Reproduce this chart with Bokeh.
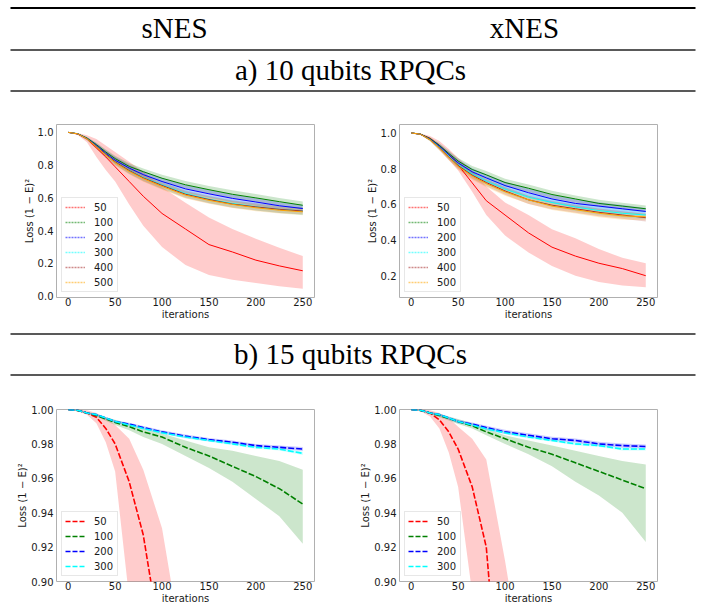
from bokeh.plotting import figure
from bokeh.layouts import column, row
from bokeh.models import Range1d, FixedTicker, PrintfTickFormatter, Legend, LegendItem
from bokeh.core.properties import value
from bokeh.embed import file_html
from bokeh.resources import INLINE

# ---------------- data ----------------
ITER = [0, 10, 20, 30, 40, 50, 65, 80, 100, 125, 150, 175, 200, 225, 250]
X_TICKS = [0, 50, 100, 150, 200, 250]
Y_TICKS_S10 = [0.0, 0.2, 0.4, 0.6, 0.8, 1.0]
Y_TICKS_X10 = [0.2, 0.4, 0.6, 0.8, 1.0]
Y_TICKS_15 = [0.90, 0.92, 0.94, 0.96, 0.98, 1.00]
LABELS_10 = ["50", "100", "200", "300", "400", "500"]
LABELS_15 = ["50", "100", "200", "300"]
COL_HEADERS = ["sNES", "xNES"]
SECTION_A = "a) 10 qubits RPQCs"
SECTION_B = "b) 15 qubits RPQCs"

# sNES, 10 qubits
S10_50_M = [1.000, 0.990, 0.960, 0.905, 0.850, 0.790, 0.700, 0.610, 0.505, 0.410, 0.315, 0.270, 0.220, 0.185, 0.155]
S10_50_HI = [1.000, 0.996, 0.982, 0.960, 0.920, 0.880, 0.820, 0.760, 0.665, 0.570, 0.480, 0.410, 0.350, 0.295, 0.245]
S10_50_LO = [1.000, 0.984, 0.940, 0.850, 0.770, 0.700, 0.560, 0.430, 0.300, 0.190, 0.130, 0.100, 0.080, 0.060, 0.045]
S10_100_M = [1.000, 0.992, 0.965, 0.925, 0.880, 0.840, 0.792, 0.760, 0.720, 0.680, 0.650, 0.622, 0.600, 0.577, 0.555]
S10_100_HI = [1.000, 0.995, 0.972, 0.937, 0.896, 0.858, 0.812, 0.780, 0.742, 0.703, 0.673, 0.646, 0.624, 0.600, 0.578]
S10_100_LO = [1.000, 0.989, 0.958, 0.913, 0.864, 0.822, 0.772, 0.740, 0.698, 0.657, 0.627, 0.598, 0.576, 0.554, 0.532]
S10_200_M = [1.000, 0.991, 0.962, 0.920, 0.872, 0.830, 0.782, 0.742, 0.700, 0.655, 0.625, 0.597, 0.575, 0.552, 0.535]
S10_200_HI = [1.000, 0.994, 0.970, 0.933, 0.889, 0.849, 0.803, 0.763, 0.722, 0.678, 0.648, 0.620, 0.598, 0.574, 0.556]
S10_200_LO = [1.000, 0.988, 0.954, 0.907, 0.855, 0.811, 0.761, 0.721, 0.678, 0.632, 0.602, 0.574, 0.552, 0.530, 0.514]
S10_300_M = [1.000, 0.991, 0.961, 0.915, 0.866, 0.820, 0.768, 0.725, 0.680, 0.627, 0.592, 0.566, 0.546, 0.530, 0.520]
S10_300_HI = [1.000, 0.994, 0.969, 0.928, 0.882, 0.838, 0.788, 0.746, 0.702, 0.650, 0.615, 0.589, 0.569, 0.552, 0.542]
S10_300_LO = [1.000, 0.988, 0.953, 0.902, 0.850, 0.802, 0.748, 0.704, 0.658, 0.604, 0.569, 0.543, 0.523, 0.508, 0.495]
S10_400_M = [1.000, 0.991, 0.961, 0.915, 0.866, 0.820, 0.767, 0.722, 0.676, 0.622, 0.590, 0.562, 0.545, 0.530, 0.520]
S10_400_HI = [1.000, 0.994, 0.969, 0.928, 0.882, 0.838, 0.786, 0.742, 0.697, 0.644, 0.612, 0.584, 0.567, 0.552, 0.542]
S10_400_LO = [1.000, 0.988, 0.953, 0.902, 0.850, 0.802, 0.748, 0.702, 0.655, 0.600, 0.568, 0.540, 0.523, 0.508, 0.498]
S10_500_M = [1.000, 0.991, 0.960, 0.912, 0.862, 0.815, 0.762, 0.718, 0.670, 0.617, 0.585, 0.560, 0.540, 0.525, 0.515]
S10_500_HI = [1.000, 0.994, 0.968, 0.925, 0.878, 0.833, 0.781, 0.738, 0.691, 0.638, 0.606, 0.581, 0.561, 0.546, 0.536]
S10_500_LO = [1.000, 0.988, 0.952, 0.899, 0.846, 0.797, 0.743, 0.698, 0.649, 0.596, 0.564, 0.539, 0.519, 0.504, 0.494]

# xNES, 10 qubits
X10_50_M = [1.000, 0.992, 0.970, 0.930, 0.880, 0.820, 0.720, 0.620, 0.540, 0.440, 0.360, 0.310, 0.270, 0.240, 0.200]
X10_50_HI = [1.000, 0.996, 0.982, 0.955, 0.910, 0.860, 0.790, 0.700, 0.610, 0.540, 0.460, 0.410, 0.350, 0.300, 0.270]
X10_50_LO = [1.000, 0.988, 0.958, 0.905, 0.850, 0.790, 0.670, 0.540, 0.425, 0.330, 0.255, 0.200, 0.165, 0.145, 0.135]
X10_100_M = [1.000, 0.993, 0.968, 0.930, 0.885, 0.842, 0.795, 0.765, 0.722, 0.690, 0.655, 0.630, 0.605, 0.590, 0.575]
X10_100_HI = [1.000, 0.996, 0.976, 0.942, 0.900, 0.860, 0.815, 0.786, 0.743, 0.711, 0.676, 0.650, 0.625, 0.609, 0.593]
X10_100_LO = [1.000, 0.990, 0.960, 0.918, 0.870, 0.824, 0.775, 0.744, 0.701, 0.669, 0.634, 0.610, 0.585, 0.571, 0.557]
X10_200_M = [1.000, 0.992, 0.965, 0.925, 0.878, 0.832, 0.782, 0.748, 0.705, 0.665, 0.630, 0.605, 0.590, 0.575, 0.560]
X10_200_HI = [1.000, 0.995, 0.973, 0.938, 0.894, 0.850, 0.802, 0.769, 0.727, 0.688, 0.653, 0.628, 0.612, 0.596, 0.580]
X10_200_LO = [1.000, 0.989, 0.957, 0.912, 0.862, 0.814, 0.762, 0.727, 0.683, 0.642, 0.607, 0.582, 0.568, 0.554, 0.540]
X10_300_M = [1.000, 0.992, 0.963, 0.920, 0.870, 0.822, 0.770, 0.730, 0.685, 0.640, 0.610, 0.585, 0.565, 0.550, 0.540]
X10_300_HI = [1.000, 0.995, 0.971, 0.933, 0.886, 0.840, 0.790, 0.751, 0.707, 0.663, 0.633, 0.608, 0.588, 0.572, 0.562]
X10_300_LO = [1.000, 0.989, 0.955, 0.907, 0.854, 0.804, 0.750, 0.709, 0.663, 0.617, 0.587, 0.562, 0.542, 0.528, 0.518]
X10_400_M = [1.000, 0.992, 0.962, 0.917, 0.866, 0.817, 0.763, 0.722, 0.675, 0.625, 0.595, 0.575, 0.555, 0.540, 0.525]
X10_400_HI = [1.000, 0.995, 0.970, 0.930, 0.882, 0.835, 0.783, 0.743, 0.697, 0.648, 0.618, 0.597, 0.577, 0.561, 0.546]
X10_400_LO = [1.000, 0.989, 0.954, 0.904, 0.850, 0.799, 0.743, 0.701, 0.653, 0.602, 0.572, 0.553, 0.533, 0.519, 0.504]
X10_500_M = [1.000, 0.992, 0.961, 0.915, 0.863, 0.812, 0.758, 0.716, 0.670, 0.625, 0.590, 0.570, 0.550, 0.535, 0.530]
X10_500_HI = [1.000, 0.995, 0.969, 0.928, 0.879, 0.830, 0.778, 0.737, 0.692, 0.647, 0.612, 0.592, 0.572, 0.556, 0.550]
X10_500_LO = [1.000, 0.989, 0.953, 0.902, 0.847, 0.794, 0.738, 0.695, 0.648, 0.603, 0.568, 0.548, 0.528, 0.514, 0.510]

# sNES, 15 qubits (red leaves the axis range early; shorter lists)
S15_50_M = [1.000, 0.9995, 0.998, 0.9955, 0.989, 0.980, 0.958, 0.927, 0.860]
S15_50_HI = [1.000, 1.000, 0.9995, 0.998, 0.995, 0.991, 0.983, 0.965, 0.931, 0.850]
S15_50_LO = [1.000, 0.999, 0.997, 0.992, 0.981, 0.964, 0.890]
S15_100_M = [1.000, 0.9995, 0.998, 0.9965, 0.9945, 0.9925, 0.990, 0.987, 0.984, 0.978, 0.973, 0.967, 0.961, 0.954, 0.945]
S15_100_HI = [1.000, 1.000, 0.9985, 0.997, 0.9955, 0.994, 0.9915, 0.989, 0.986, 0.982, 0.978, 0.976, 0.973, 0.970, 0.965]
S15_100_LO = [1.000, 0.999, 0.9975, 0.996, 0.9935, 0.991, 0.988, 0.984, 0.980, 0.973, 0.966, 0.958, 0.948, 0.938, 0.922]
S15_200_M = [1.000, 0.9996, 0.998, 0.997, 0.995, 0.993, 0.9915, 0.9895, 0.987, 0.9845, 0.9825, 0.981, 0.979, 0.978, 0.977]
S15_200_HI = [1.000, 1.000, 0.9985, 0.9975, 0.9957, 0.9938, 0.9923, 0.9904, 0.9880, 0.9855, 0.9835, 0.9820, 0.9800, 0.9790, 0.9782]
S15_200_LO = [1.000, 0.9992, 0.9975, 0.9965, 0.9943, 0.9922, 0.9907, 0.9886, 0.9860, 0.9835, 0.9815, 0.9800, 0.9780, 0.9770, 0.9758]
S15_300_M = [1.000, 0.9996, 0.998, 0.997, 0.995, 0.993, 0.991, 0.989, 0.9865, 0.984, 0.982, 0.980, 0.978, 0.977, 0.9745]
S15_300_HI = [1.000, 1.000, 0.9985, 0.9975, 0.9956, 0.9937, 0.9918, 0.9898, 0.9873, 0.9848, 0.9828, 0.9808, 0.9788, 0.9778, 0.9755]
S15_300_LO = [1.000, 0.9992, 0.9975, 0.9965, 0.9944, 0.9923, 0.9902, 0.9882, 0.9857, 0.9832, 0.9812, 0.9792, 0.9772, 0.9762, 0.9735]

# xNES, 15 qubits
X15_50_M = [1.000, 0.9995, 0.998, 0.994, 0.987, 0.977, 0.955, 0.920, 0.790]
X15_50_HI = [1.000, 1.000, 0.9995, 0.998, 0.995, 0.990, 0.983, 0.971, 0.912, 0.830]
X15_50_LO = [1.000, 0.999, 0.996, 0.989, 0.975, 0.955, 0.893]
X15_100_M = [1.000, 0.9995, 0.998, 0.9965, 0.9948, 0.993, 0.9905, 0.987, 0.983, 0.978, 0.974, 0.969, 0.964, 0.959, 0.954]
X15_100_HI = [1.000, 1.000, 0.9987, 0.9975, 0.996, 0.9945, 0.992, 0.9888, 0.985, 0.982, 0.979, 0.976, 0.973, 0.970, 0.968]
X15_100_LO = [1.000, 0.999, 0.9973, 0.9955, 0.9936, 0.9915, 0.989, 0.985, 0.980, 0.974, 0.967, 0.958, 0.950, 0.940, 0.923]
X15_200_M = [1.000, 0.9996, 0.998, 0.997, 0.995, 0.993, 0.9915, 0.9895, 0.987, 0.985, 0.983, 0.982, 0.980, 0.979, 0.9785]
X15_200_HI = [1.000, 1.000, 0.9985, 0.9977, 0.9958, 0.994, 0.9925, 0.9906, 0.9882, 0.9862, 0.9842, 0.9832, 0.9812, 0.9802, 0.9797]
X15_200_LO = [1.000, 0.9992, 0.9975, 0.9963, 0.9942, 0.992, 0.9905, 0.9884, 0.9858, 0.9838, 0.9818, 0.9808, 0.9788, 0.9778, 0.9773]
X15_300_M = [1.000, 0.9996, 0.998, 0.997, 0.995, 0.993, 0.991, 0.9888, 0.9865, 0.984, 0.982, 0.980, 0.979, 0.977, 0.977]
X15_300_HI = [1.000, 1.000, 0.9985, 0.9976, 0.9957, 0.9938, 0.9918, 0.9896, 0.9873, 0.9848, 0.9828, 0.9808, 0.9798, 0.9778, 0.9778]
X15_300_LO = [1.000, 0.9992, 0.9975, 0.9964, 0.9943, 0.9922, 0.9902, 0.9880, 0.9857, 0.9832, 0.9812, 0.9792, 0.9782, 0.9762, 0.9762]

# ---------------- styles ----------------
COLORS_10 = ["red", "green", "blue", "cyan", "brown", "orange"]
COLORS_15 = ["red", "green", "blue", "cyan"]
SANS = "DejaVu Sans"
SERIF = "Liberation Serif"
FRAME = "#b0b0b0"
FULL_W = 702
HALF_W = 351


def panel(series, colors, labels, yr, yticks, yfmt, height, bleft, bright, btop, bbot,
          lw, dash, leg_w, leg_dash, leg_alpha):
    p = figure(width=HALF_W, height=height, output_backend="svg", toolbar_location=None,
               x_range=Range1d(-12.5, 262.5), y_range=Range1d(*yr),
               min_border_left=bleft, min_border_right=bright, min_border_top=btop, min_border_bottom=bbot,
               outline_line_color=FRAME, outline_line_width=1)
    p.grid.visible = False
    for ax in (p.xaxis[0], p.yaxis[0]):
        ax.axis_line_color = None
        ax.major_tick_out = 0
        ax.major_tick_in = 0
        ax.minor_tick_out = 0
        ax.minor_tick_in = 0
        ax.major_label_text_font = SANS
        ax.major_label_text_font_size = "10px"
        ax.major_label_text_color = "#1a1a1a"
        ax.axis_label_text_font = SANS
        ax.axis_label_text_font_size = "10px"
        ax.axis_label_text_font_style = "normal"
        ax.axis_label_text_color = "#1a1a1a"
    p.xaxis[0].major_label_standoff = 0
    p.xaxis[0].axis_label_standoff = 0
    p.xaxis[0].ticker = FixedTicker(ticks=X_TICKS)
    p.yaxis[0].ticker = FixedTicker(ticks=yticks)
    p.yaxis[0].formatter = PrintfTickFormatter(format=yfmt)
    p.xaxis[0].axis_label = "iterations"
    p.yaxis[0].axis_label = "Loss (1 − E)²"
    p.yaxis[0].major_label_standoff = 3
    p.yaxis[0].axis_label_standoff = 0

    for (m, lo, hi), c in zip(series, colors):
        xs = ITER[:len(hi)] + ITER[:len(lo)][::-1]
        ys = list(hi) + list(lo)[::-1]
        p.patch(xs, ys, fill_color=c, fill_alpha=0.2, line_color=None)
    items = []
    for (m, lo, hi), c, lab in zip(series, colors, labels):
        p.line(ITER[:len(m)], m, line_color=c, line_width=lw, line_dash=dash)
        # legend handle: a one-point line (draws nothing in the plot) carrying the handle style
        proxy = p.line(ITER[:1], m[:1], line_color=c, line_width=leg_w, line_dash=leg_dash, line_alpha=leg_alpha)
        items.append(LegendItem(label=lab, renderers=[proxy]))
    leg = Legend(items=items, location="bottom_left",
                 label_text_font=SANS, label_text_font_size="10px", label_text_color="#1a1a1a",
                 glyph_width=20, glyph_height=12, label_height=12, label_standoff=9,
                 spacing=3, padding=3, margin=5,
                 border_line_color="#d0d0d0", border_line_width=1,
                 background_fill_color="white", background_fill_alpha=0.8)
    p.add_layout(leg)
    return p


def header_fig(height):
    f = figure(width=FULL_W, height=height, output_backend="svg", toolbar_location=None,
               x_range=Range1d(0, FULL_W), y_range=Range1d(height, 0),
               x_axis_location=None, y_axis_location=None, min_border=0,
               outline_line_color=None)
    f.grid.visible = False
    return f


# header: column titles + section a  (page y 0..112)
h1 = header_fig(112)
h1.segment(x0=[10], y0=[7.5], x1=[695], y1=[7.5], line_color="black", line_width=2)
h1.segment(x0=[10, 10], y0=[49.5, 90.5], x1=[695, 695], y1=[49.5, 90.5], line_color="#222222", line_width=1.5)
h1.text(x=[174, 524], y=[27, 27], text=COL_HEADERS, text_align="center", text_baseline="middle",
        text_font=value(SERIF), text_font_size="29px", text_color="black")
h1.text(x=[350], y=[69], text=[SECTION_A], text_align="center", text_baseline="middle",
        text_font=value(SERIF), text_font_size="29px", text_color="black")

s10 = [(S10_50_M, S10_50_LO, S10_50_HI), (S10_100_M, S10_100_LO, S10_100_HI),
       (S10_200_M, S10_200_LO, S10_200_HI), (S10_300_M, S10_300_LO, S10_300_HI),
       (S10_400_M, S10_400_LO, S10_400_HI), (S10_500_M, S10_500_LO, S10_500_HI)]
x10 = [(X10_50_M, X10_50_LO, X10_50_HI), (X10_100_M, X10_100_LO, X10_100_HI),
       (X10_200_M, X10_200_LO, X10_200_HI), (X10_300_M, X10_300_LO, X10_300_HI),
       (X10_400_M, X10_400_LO, X10_400_HI), (X10_500_M, X10_500_LO, X10_500_HI)]
s15 = [(S15_50_M, S15_50_LO, S15_50_HI), (S15_100_M, S15_100_LO, S15_100_HI),
       (S15_200_M, S15_200_LO, S15_200_HI), (S15_300_M, S15_300_LO, S15_300_HI)]
x15 = [(X15_50_M, X15_50_LO, X15_50_HI), (X15_100_M, X15_100_LO, X15_100_HI),
       (X15_200_M, X15_200_LO, X15_200_HI), (X15_300_M, X15_300_LO, X15_300_HI)]

# row a (page y 112..330), frames at y 124..297
pa1 = panel(s10, COLORS_10, LABELS_10, (-0.008, 1.048), Y_TICKS_S10, "%.1f", 218, 56, 37, 12, 33,
            1.0, "solid", 1.5, "2 1", 0.55)
pa2 = panel(x10, COLORS_10, LABELS_10, (0.078, 1.047), Y_TICKS_X10, "%.1f", 218, 48, 45, 12, 33,
            1.0, "solid", 1.5, "2 1", 0.55)

# section b (page y 330..396)
h2 = header_fig(66)
h2.segment(x0=[10, 10], y0=[3.5, 44.5], x1=[695, 695], y1=[3.5, 44.5], line_color="#222222", line_width=1.5)
h2.text(x=[350], y=[23], text=[SECTION_B], text_align="center", text_baseline="middle",
        text_font=value(SERIF), text_font_size="29px", text_color="black")

# row b (page y 396..614), frames at y 409..581
pb1 = panel(s15, COLORS_15, LABELS_15, (0.90, 1.00), Y_TICKS_15, "%.2f", 218, 56, 37, 13, 33,
            1.6, "6 2", 1.6, "5 2", 1.0)
pb2 = panel(x15, COLORS_15, LABELS_15, (0.90, 1.00), Y_TICKS_15, "%.2f", 218, 48, 45, 13, 33,
            1.6, "6 2", 1.6, "5 2", 1.0)

layout = column(h1, row(pa1, pa2), h2, row(pb1, pb2))
open("out.html", "w").write(file_html(layout, INLINE))
